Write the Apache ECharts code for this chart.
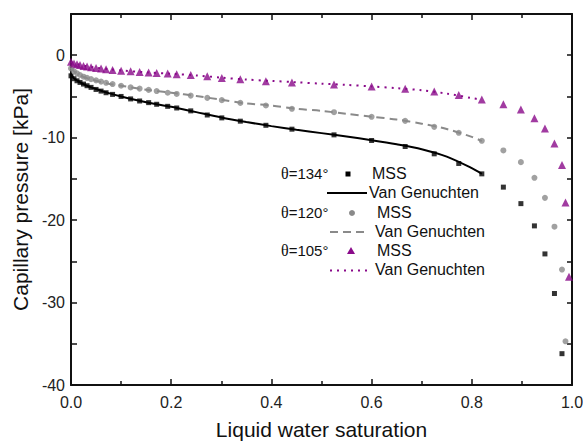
<!DOCTYPE html>
<html>
<head>
<meta charset="utf-8">
<script src="https://cdn.jsdelivr.net/npm/echarts@6/dist/echarts.min.js"></script>
<style>
html,body{margin:0;padding:0;background:#fff;}
#chart{width:583px;height:443px;}
</style>
</head>
<body>
<div id="chart"></div>
<script>
// Liquid water saturation positions of the MSS points
var sMSS = [0, 0.006, 0.012, 0.018, 0.025, 0.032, 0.04, 0.05, 0.06, 0.07, 0.083, 0.1, 0.119, 0.137, 0.155, 0.171, 0.193, 0.211, 0.239, 0.272, 0.301, 0.338, 0.389, 0.441, 0.525, 0.6, 0.667, 0.725, 0.774, 0.82, 0.863, 0.898, 0.925, 0.946, 0.965, 0.98, 0.987, 0.994];
// MSS capillary pressure [kPa]
var p134MSS = [-2.5, -2.85, -3.1, -3.3, -3.5, -3.7, -3.9, -4.15, -4.35, -4.55, -4.75, -5.0, -5.3, -5.55, -5.75, -5.95, -6.2, -6.4, -6.75, -7.25, -7.6, -8.0, -8.5, -8.97, -9.66, -10.34, -11.07, -11.96, -13.13, -14.39, -16.0, -18.0, -20.7, -24.1, -28.9, -36.2];
var p120MSS = [-1.6, -1.95, -2.2, -2.4, -2.6, -2.75, -2.9, -3.05, -3.2, -3.35, -3.5, -3.7, -3.9, -4.05, -4.2, -4.35, -4.55, -4.7, -4.9, -5.17, -5.45, -5.78, -6.1, -6.5, -6.91, -7.47, -7.96, -8.69, -9.41, -10.38, -11.55, -12.97, -14.87, -17.3, -20.8, -26.0, -34.7];
var p105MSS = [-0.8, -1.0, -1.1, -1.2, -1.3, -1.38, -1.45, -1.55, -1.62, -1.7, -1.78, -1.87, -1.95, -2.02, -2.1, -2.15, -2.22, -2.3, -2.4, -2.55, -2.75, -2.91, -3.15, -3.3, -3.55, -3.8, -4.08, -4.4, -4.81, -5.37, -5.94, -6.58, -7.64, -8.89, -10.7, -13.33, -17.86, -26.87];
// Van Genuchten fits
var sVG = [0, 0.005, 0.01, 0.02, 0.03, 0.05, 0.075, 0.1, 0.15, 0.2, 0.25, 0.3, 0.35, 0.4, 0.45, 0.5, 0.55, 0.6, 0.65, 0.7, 0.75, 0.8, 0.82];
var p134VG = [-2.3, -2.75, -3.0, -3.35, -3.65, -4.1, -4.6, -5.0, -5.7, -6.25, -6.9, -7.55, -8.1, -8.6, -9.05, -9.45, -9.85, -10.3, -10.8, -11.4, -12.3, -13.7, -14.4];
var p120VG = [-1.5, -1.9, -2.15, -2.5, -2.75, -3.1, -3.45, -3.7, -4.2, -4.55, -4.95, -5.4, -5.85, -6.1, -6.5, -6.75, -7.1, -7.45, -7.8, -8.3, -8.95, -9.9, -10.4];
var p105VG = [-0.8, -0.95, -1.05, -1.2, -1.32, -1.5, -1.7, -1.85, -2.08, -2.25, -2.45, -2.72, -2.95, -3.12, -3.28, -3.45, -3.6, -3.78, -4.0, -4.25, -4.65, -5.2, -5.4];
// Axis ranges and tick labels
var xMin = 0, xMax = 1, xStep = 0.2;
var yMin = -40, yMax = 5, yStep = 5;
var legendAngles = ['134°', '120°', '105°'];

function zip(xs, ys) {
  var out = [];
  for (var i = 0; i < ys.length; i++) out.push([xs[i], ys[i]]);
  return out;
}

var FONT = "Arial, 'Liberation Sans', sans-serif";
var SERIF = "'Liberation Serif', 'DejaVu Serif', serif";
var BLACK = '#000000', GREY = '#8a8a8a', PURPLE = '#8a0a8a';

var chart = echarts.init(document.getElementById('chart'), null, {renderer: 'svg'});

var axisLineStyle = {color: '#111', width: 2};
var commonX = {
  type: 'value', min: xMin, max: xMax, interval: xStep,
  axisLine: {show: true, onZero: false, lineStyle: axisLineStyle},
  axisTick: {show: true, inside: true, length: 6, lineStyle: {color: '#111', width: 1.5}},
  minorTick: {show: true, splitNumber: 2, length: 4, lineStyle: {color: '#111', width: 1.5}},
  splitLine: {show: false}
};
var commonY = {
  type: 'value', min: yMin, max: yMax, interval: yStep,
  axisLine: {show: true, onZero: false, lineStyle: axisLineStyle},
  axisTick: {show: true, inside: true, length: 6, lineStyle: {color: '#111', width: 1.5}},
  splitLine: {show: false}
};

function legendText(txt, x, y, rich) {
  return {type: 'text', left: x, top: y - 9, z: 100,
    style: {text: txt, font: '16px ' + FONT, fill: '#111', rich: rich}};
}
var thetaRich = {t: {fontFamily: SERIF, fontSize: 16, fill: '#111'}, n: {fontFamily: FONT, fontSize: 15, fill: '#111'}};

var graphics = [
  legendText('{t|θ}{n|=' + legendAngles[0] + '}', 281, 174, thetaRich),
  {type: 'rect', shape: {x: 345.5, y: 171.5, width: 5, height: 5}, style: {fill: BLACK}, z: 100},
  legendText('MSS', 372, 174),
  {type: 'line', shape: {x1: 327, y1: 193, x2: 367, y2: 193}, style: {stroke: BLACK, lineWidth: 2}, z: 100},
  legendText('Van Genuchten', 369, 193),
  legendText('{t|θ}{n|=' + legendAngles[1] + '}', 281, 213, thetaRich),
  {type: 'circle', shape: {cx: 352, cy: 213, r: 3}, style: {fill: GREY}, z: 100},
  legendText('MSS', 377, 213),
  {type: 'line', shape: {x1: 330, y1: 232, x2: 364, y2: 232}, style: {stroke: GREY, lineWidth: 2, lineDash: [8, 5]}, z: 100},
  legendText('Van Genuchten', 375, 232),
  legendText('{t|θ}{n|=' + legendAngles[2] + '}', 281, 251, thetaRich),
  {type: 'polygon', shape: {points: [[351, 247], [355, 254], [347, 254]]}, style: {fill: PURPLE}, z: 100},
  legendText('MSS', 377, 251),
  {type: 'line', shape: {x1: 330, y1: 270.5, x2: 367, y2: 270.5}, style: {stroke: PURPLE, lineWidth: 2, lineDash: [2, 5]}, z: 100},
  legendText('Van Genuchten', 375, 270.5)
];

var option = {
  backgroundColor: '#ffffff',
  animation: false,
  grid: {left: 71, right: 11, top: 14, bottom: 58, containLabel: false, outerBoundsMode: 'none'},
  xAxis: [
    Object.assign({}, commonX, {
      position: 'bottom',
      axisLabel: {show: true, formatter: function (v) { return v.toFixed(1); }, fontSize: 16, fontFamily: FONT, color: '#222', margin: 9},
      name: 'Liquid water saturation', nameLocation: 'middle', nameGap: 34,
      nameTextStyle: {fontSize: 21, fontFamily: FONT, color: '#111'}
    }),
    Object.assign({}, commonX, {position: 'top', axisLabel: {show: false}})
  ],
  yAxis: [
    Object.assign({}, commonY, {
      position: 'left',
      axisLabel: {show: true, formatter: function (v) { return (v % 10 === 0) ? String(v) : ''; }, fontSize: 16, fontFamily: FONT, color: '#222', margin: 6},
      name: 'Capillary pressure [kPa]', nameLocation: 'middle', nameGap: 38,
      nameTextStyle: {fontSize: 21, fontFamily: FONT, color: '#111'}
    }),
    Object.assign({}, commonY, {position: 'right', axisLabel: {show: false}, axisTick: {show: true, inside: true, length: 5, lineStyle: {color: '#111', width: 1.5}}})
  ],
  series: [
    {name: 'θ=134° Van Genuchten', type: 'line', data: zip(sVG, p134VG), showSymbol: false, symbol: 'none', smooth: 0.3,
      lineStyle: {color: BLACK, width: 2}, z: 2},
    {name: 'θ=120° Van Genuchten', type: 'line', data: zip(sVG, p120VG), showSymbol: false, symbol: 'none', smooth: 0.3,
      lineStyle: {color: GREY, width: 2, type: [8, 5]}, z: 2},
    {name: 'θ=105° Van Genuchten', type: 'line', data: zip(sVG, p105VG), showSymbol: false, symbol: 'none', smooth: 0.3,
      lineStyle: {color: PURPLE, width: 2, type: [2, 5]}, z: 2},
    {name: 'θ=134° MSS', type: 'scatter', data: zip(sMSS, p134MSS), symbol: 'rect', symbolSize: 5,
      itemStyle: {color: BLACK}, z: 3},
    {name: 'θ=120° MSS', type: 'scatter', data: zip(sMSS, p120MSS), symbol: 'circle', symbolSize: 6,
      itemStyle: {color: GREY}, z: 3},
    {name: 'θ=105° MSS', type: 'scatter', data: zip(sMSS, p105MSS), symbol: 'triangle', symbolSize: 8,
      itemStyle: {color: PURPLE}, z: 3}
  ],
  graphic: graphics
};
chart.setOption(option);
</script>
</body>
</html>
